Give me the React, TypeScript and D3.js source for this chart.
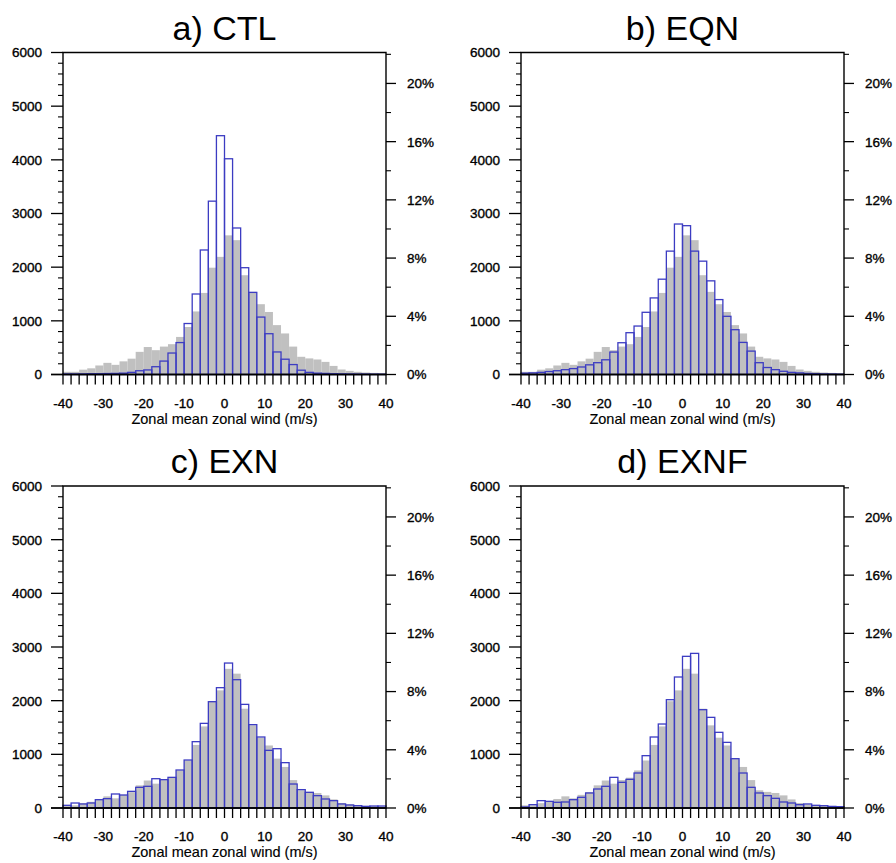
import React from 'react';
import * as d3 from 'd3';

// ---- data ----
const binStarts: number[] = d3.range(-40, 40, 2); // lower edge of each 2 m/s bin
const binWidth = 2;

const grayCounts: number[] = [
  50, 50, 90, 115, 168, 217, 180, 245, 295, 422,
  512, 453, 520, 565, 700, 885, 1175, 1520, 1990, 2192,
  2593, 2503, 1850, 1540, 1310, 1165, 920, 765, 520, 330,
  300, 280, 235, 160, 93, 68, 50, 37, 30, 25,
];

const ctlCounts: number[] = [
  10, 10, 12, 15, 15, 18, 20, 25, 40, 70,
  85, 145, 250, 400, 595, 950, 1500, 2320, 3230, 4450,
  4020, 2730, 1990, 1530, 1070, 760, 420, 285, 185, 80,
  40, 25, 20, 15, 12, 10, 8, 8, 6, 5,
];

const eqnCounts: number[] = [
  25, 30, 40, 55, 70, 90, 110, 140, 180, 220,
  274, 418, 592, 779, 903, 1159, 1427, 1776, 2299, 2804,
  2773, 2299, 2112, 1745, 1396, 1084, 835, 598, 436, 220,
  130, 90, 60, 40, 30, 20, 15, 10, 8, 5,
];

const exnCounts: number[] = [
  50, 93, 75, 93, 155, 174, 261, 242, 310, 385,
  404, 546, 528, 571, 708, 894, 1236, 1577, 1981, 2242,
  2701, 2391, 1931, 1553, 1323, 1074, 1105, 845, 447, 342,
  292, 230, 168, 137, 75, 56, 43, 31, 37, 37,
];

const exnfCounts: number[] = [
  19, 62, 137, 124, 106, 112, 155, 199, 280, 354,
  404, 571, 478, 534, 652, 975, 1323, 1565, 2018, 2441,
  2826, 2881, 1832, 1689, 1410, 1223, 919, 652, 385, 280,
  230, 180, 112, 93, 62, 75, 50, 43, 30, 25,
];

const panelTitles: string[] = ['a) CTL', 'b) EQN', 'c) EXN', 'd) EXNF'];
const panelSeries: number[][] = [ctlCounts, eqnCounts, exnCounts, exnfCounts];

const yTickValues: number[] = [0, 1000, 2000, 3000, 4000, 5000, 6000];
const yMinorStep = 200;
const pctTickValues: number[] = [0, 4, 8, 12, 16, 20];
const pctMinorStep = 2;
const xTickLabels: number[] = [-40, -30, -20, -10, 0, 10, 20, 30, 40];
const xLabel = 'Zonal mean zonal wind (m/s)';

// ---- layout ----
const W = 896;
const H = 863;
const PW = 323;
const PH = 322;
const origins = [
  { x: 63, y: 52.5 },
  { x: 521, y: 52.5 },
  { x: 63, y: 486 },
  { x: 521, y: 486 },
];
const FONT = "'Liberation Sans', Arial, Helvetica, sans-serif";
const GRAY = '#c0c0c0';
const BLUE = '#3c3cc2';
const LBL = { fontSize: 13.5, fontFamily: FONT, fill: '#000', stroke: '#000', strokeWidth: 0.35 };

const totalCount = d3.sum(grayCounts);

function Panel({ idx }: { idx: number }) {
  const o = origins[idx];
  const x = d3.scaleLinear().domain([-40, 40]).range([o.x, o.x + PW]);
  const y = d3.scaleLinear().domain([0, 6000]).range([o.y + PH, o.y]);
  const pctMax = (6000 / totalCount) * 100;
  const yPct = d3.scaleLinear().domain([0, pctMax]).range([o.y + PH, o.y]);
  const series = panelSeries[idx];
  const yMinor = d3.range(0, 6000 + 1, yMinorStep).filter((v) => v % 1000 !== 0);
  const pctMinor = d3.range(0, pctMax, pctMinorStep).filter((v) => v % 4 !== 0);
  const xTicks = d3.range(-40, 40 + 1, 2);
  const base = y(0);
  const right = o.x + PW;
  return (
    <g>
      {binStarts.map((b, i) => (
        <rect key={'g' + i} x={x(b)} y={y(grayCounts[i])} width={x(b + binWidth) - x(b)}
          height={base - y(grayCounts[i])} fill={GRAY} stroke="none" />
      ))}
      {binStarts.map((b, i) => (
        <rect key={'b' + i} x={x(b)} y={y(series[i])} width={x(b + binWidth) - x(b)}
          height={base - y(series[i])} fill="none" stroke={BLUE} strokeWidth={1.3} />
      ))}
      <path d={`M${o.x},${base}V${o.y}H${right}V${base}Z`} fill="none" stroke="#000" strokeWidth={1.4} />
      <line x1={o.x - 12} x2={right} y1={base} y2={base} stroke="#000" strokeWidth={1.6} />
      {yTickValues.map((v) => (
        <g key={'yt' + v}>
          <line x1={o.x - 12} x2={o.x} y1={y(v)} y2={y(v)} stroke="#000" strokeWidth={1.3} />
          <text x={o.x - 21} y={y(v)} dy="0.36em" textAnchor="end" {...LBL}>{v}</text>
        </g>
      ))}
      {yMinor.map((v) => (
        <line key={'ym' + v} x1={o.x - 5} x2={o.x} y1={y(v)} y2={y(v)} stroke="#000" strokeWidth={1.1} />
      ))}
      {pctTickValues.map((v) => (
        <g key={'pt' + v}>
          <line x1={right} x2={right + 10} y1={yPct(v)} y2={yPct(v)} stroke="#000" strokeWidth={1.3} />
          <text x={right + 21} y={yPct(v)} dy="0.36em" textAnchor="start" {...LBL}>{v + '%'}</text>
        </g>
      ))}
      {pctMinor.map((v) => (
        <line key={'pm' + v} x1={right} x2={right + 5} y1={yPct(v)} y2={yPct(v)} stroke="#000" strokeWidth={1.1} />
      ))}
      {xTicks.map((v) => (
        <line key={'xt' + v} x1={x(v)} x2={x(v)} y1={base} y2={base + 10} stroke="#000" strokeWidth={1.3} />
      ))}
      {xTickLabels.map((v) => (
        <text key={'xl' + v} x={x(v)} y={base + 33} textAnchor="middle" {...LBL}>{v}</text>
      ))}
      <text x={o.x + PW / 2} y={base + 49} textAnchor="middle" fontSize={14.5} fontFamily={FONT}
        stroke="#000" strokeWidth={0.15}>{xLabel}</text>
      <text x={o.x + PW / 2} y={o.y - 13} textAnchor="middle" fontSize={34} fontFamily={FONT}>{panelTitles[idx]}</text>
    </g>
  );
}

export default function App() {
  return (
    <svg width={W} height={H} viewBox={`0 0 ${W} ${H}`}
      style={{ position: 'absolute', left: 0, top: 0, background: '#fff' }}>
      <rect x={0} y={0} width={W} height={H} fill="#fff" />
      {[0, 1, 2, 3].map((i) => <Panel key={i} idx={i} />)}
    </svg>
  );
}
